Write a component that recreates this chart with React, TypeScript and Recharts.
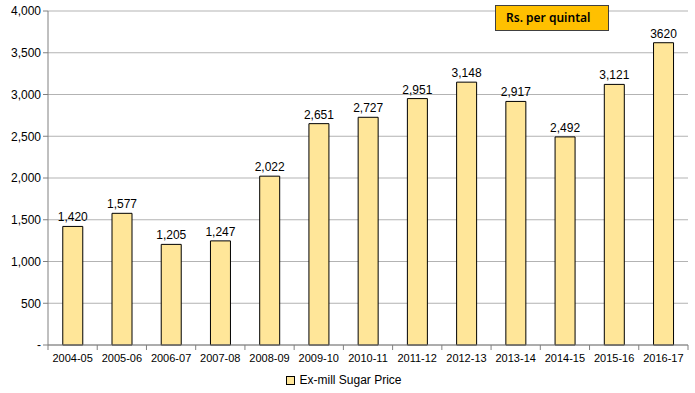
import { Bar, BarChart, CartesianGrid, LabelList, Legend, XAxis, YAxis } from "recharts";

const seasons = [
  "2004-05", "2005-06", "2006-07", "2007-08", "2008-09", "2009-10", "2010-11",
  "2011-12", "2012-13", "2013-14", "2014-15", "2015-16", "2016-17",
];
const prices = [1420, 1577, 1205, 1247, 2022, 2651, 2727, 2951, 3148, 2917, 2492, 3121, 3620];
const priceLabels = [
  "1,420", "1,577", "1,205", "1,247", "2,022", "2,651", "2,727",
  "2,951", "3,148", "2,917", "2,492", "3,121", "3620",
];
const yTicks = [0, 500, 1000, 1500, 2000, 2500, 3000, 3500, 4000];

const data = seasons.map((season, i) => ({
  season,
  price: prices[i],
  label: priceLabels[i],
}));

const font = "Arial, 'Liberation Sans', sans-serif";

function SeasonTick(props: any) {
  const { x, y, payload } = props;
  const half = payload.offset ?? 0;
  return (
    <g>
      <line x1={x - half} x2={x - half} y1={y - 8} y2={y - 3} stroke="#808080" />
      {payload.index === seasons.length - 1 && (
        <line x1={x + half} x2={x + half} y1={y - 8} y2={y - 3} stroke="#808080" />
      )}
      <text x={x} y={y + 9} textAnchor="middle" fontSize={11} fill="#000" fontFamily={font}>
        {payload.value}
      </text>
    </g>
  );
}

function SeriesLegend(props: any) {
  const items = props.payload || [];
  return (
    <div style={{ display: "flex", justifyContent: "center" }}>
      {items.map((item: any) => (
        <div key={item.value} style={{ display: "flex", alignItems: "center", gap: 4 }}>
          <span
            style={{
              display: "inline-block",
              width: 7,
              height: 7,
              background: item.color,
              border: "1px solid #000",
            }}
          />
          <span style={{ color: "#000", fontSize: 12, fontFamily: font }}>{item.value}</span>
        </div>
      ))}
    </div>
  );
}

export default function App() {
  return (
    <div style={{ position: "absolute", left: 0, top: 0, width: 695, height: 393, background: "#fff" }}>
      <BarChart
        width={695}
        height={393}
        data={data}
        barCategoryGap="30%"
        margin={{ top: 11, right: 7, left: 0, bottom: 0 }}
      >
        <CartesianGrid vertical={false} stroke="#b3b3b3" />
        <XAxis
          dataKey="season"
          height={28}
          stroke="#808080"
          tickLine={false}
          tick={<SeasonTick />}
          interval={0}
        />
        <YAxis
          width={48}
          domain={[0, 4000]}
          ticks={yTicks}
          stroke="#808080"
          tickSize={5}
          tick={{ fill: "#000", fontSize: 12, fontFamily: font }}
          tickFormatter={(v: number) => (v === 0 ? "-" : v.toLocaleString("en-US"))}
        />
        <Legend verticalAlign="bottom" height={20} content={<SeriesLegend />} />
        <Bar
          dataKey="price"
          name="Ex-mill Sugar Price"
          fill="#ffe699"
          stroke="#000"
          strokeWidth={1}
          isAnimationActive={false}
        >
          <LabelList
            dataKey="label"
            position="top"
            offset={5}
            fill="#000"
            fontSize={12}
            fontFamily={font}
          />
        </Bar>
      </BarChart>
      <div
        style={{
          position: "absolute",
          left: 495,
          top: 5,
          width: 114,
          height: 26,
          boxSizing: "border-box",
          background: "#ffc000",
          border: "1px solid #404040",
          fontFamily: "'Noto Sans', 'Open Sans', sans-serif",
          fontWeight: 600,
          fontSize: 12,
          lineHeight: "24px",
          paddingLeft: 10,
          color: "#000",
        }}
      >
        Rs. per quintal
      </div>
    </div>
  );
}
